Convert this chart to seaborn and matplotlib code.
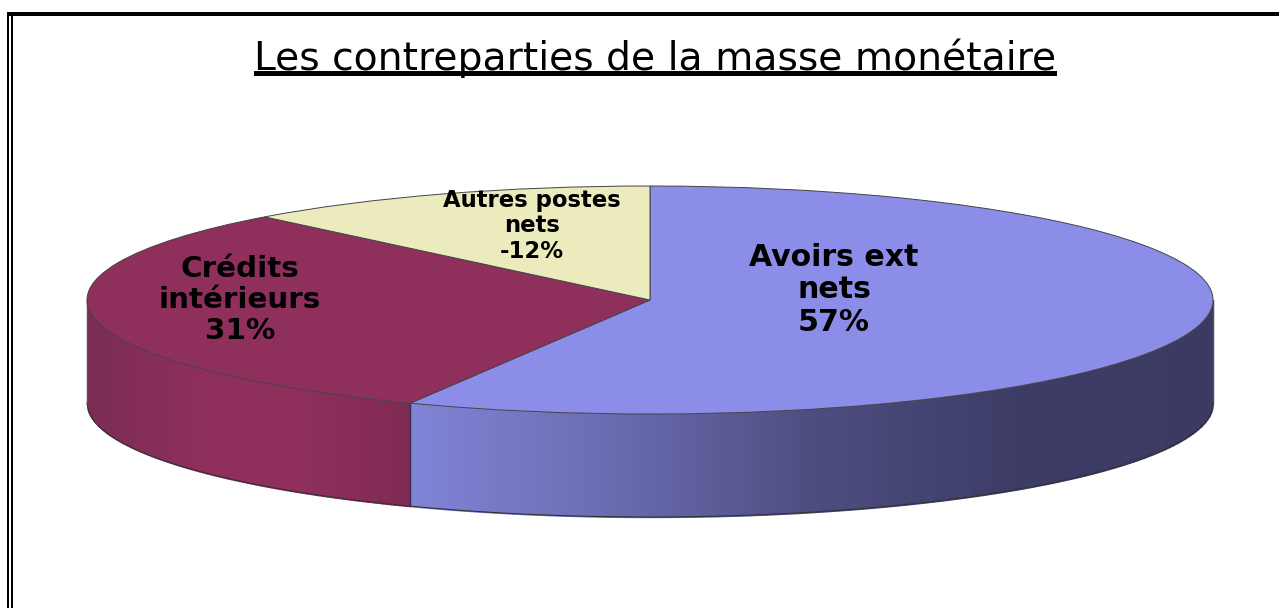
import numpy as np
import matplotlib
matplotlib.use("Agg")
import matplotlib.pyplot as plt
from matplotlib.patches import Rectangle
import seaborn as sns

TITLE = "Les contreparties de la masse monétaire"
categories = ["Avoirs ext\nnets", "Crédits\nintérieurs", "Autres postes\nnets"]
shares = [57, 31, 12]
share_labels = ["57%", "31%", "-12%"]

W, H = 1279, 608
CX, CY, RX, RY, DEPTH = 650, 300, 563, 114, 103

sns.set_theme(style="white")
plt.rcParams["font.family"] = ["DejaVu Sans"]
top_colors = sns.color_palette(["#8b8de8", "#8e2f5c", "#ebebbd"])
blue_wall = sns.blend_palette(["#8183d6", "#6a6bb0", "#4d4d80", "#3c3c66", "#3a3a62"], 101)
red_wall = sns.blend_palette(["#7a2c54", "#8e2f5c", "#8e2f5c", "#7f2a52"], 101)

fig = plt.figure(figsize=(W / 100, H / 100), dpi=100, facecolor="white")
ax = fig.add_axes([0, 0, 1, 1])
ax.pie(shares, startangle=90, counterclock=False, colors=top_colors, radius=1,
       wedgeprops=dict(edgecolor="#444444", linewidth=0.7, zorder=5))
ax.set_aspect("auto")
ax.set_xlim(-CX / RX, (W - CX) / RX)
ax.set_ylim(-(H - CY) / RY, CY / RY)
ax.set_axis_off()

# Side wall of the disc: vertical colour bands under the front half of the rim
d = DEPTH / RY
split = np.cos(np.deg2rad(90 - 3.6 * shares[0]))
edges = np.linspace(-1, 1, 283)
for x0, x1 in zip(edges[:-1], edges[1:]):
    xs = np.linspace(x0, x1, 5)
    rim = -np.sqrt(np.clip(1 - xs ** 2, 0, 1))
    mid = (x0 + x1) / 2
    if mid < split:
        c = red_wall[int(100 * (mid + 1) / (split + 1))]
    else:
        c = blue_wall[int(100 * (mid - split) / (1 - split))]
    ax.fill_between(xs, rim, rim - d, color=c, linewidth=1.0, zorder=1)

rx = np.linspace(-1, 1, 800)
ry = -np.sqrt(1 - rx ** 2) - d
ax.plot(rx, ry, color="#333333", lw=0.8, zorder=2)
for xv in (-1, 1):
    ax.plot([xv, xv], [0, -d], color="#555555", lw=0.8, zorder=2)
ry0 = -np.sqrt(1 - split ** 2)
ax.plot([split, split], [ry0, ry0 - d], color="#333355", lw=1.0, zorder=2)

def fx(p): return p / W
def fy(p): return 1 - p / H

# Labels
positions = [(834, 290, 21.6, 0), (240, 300, 21.2, 1), (532, 226, 16.4, 2)]
for (px, py, size, i) in positions:
    fig.text(fx(px), fy(py), categories[i] + "\n" + share_labels[i], ha="center", va="center",
             fontsize=size, color="black", linespacing=1.14, fontweight="bold")

# Title and underline
fig.text(fx(655.5), fy(70), TITLE, ha="center", va="baseline", fontsize=28.3, color="black")
fig.add_artist(Rectangle((fx(254), fy(76)), 803 / W, 5 / H, transform=fig.transFigure, color="black", lw=0))

# Page frame
fig.add_artist(Rectangle((fx(7), fy(16)), (W - 7) / W, 4 / H, transform=fig.transFigure, color="black", lw=0))
fig.add_artist(Rectangle((fx(7), 0), 2.2 / W, fy(12), transform=fig.transFigure, color="black", lw=0))
fig.add_artist(Rectangle((fx(11), 0), 2.2 / W, fy(12), transform=fig.transFigure, color="black", lw=0))

fig.savefig("out.png", dpi=100)
